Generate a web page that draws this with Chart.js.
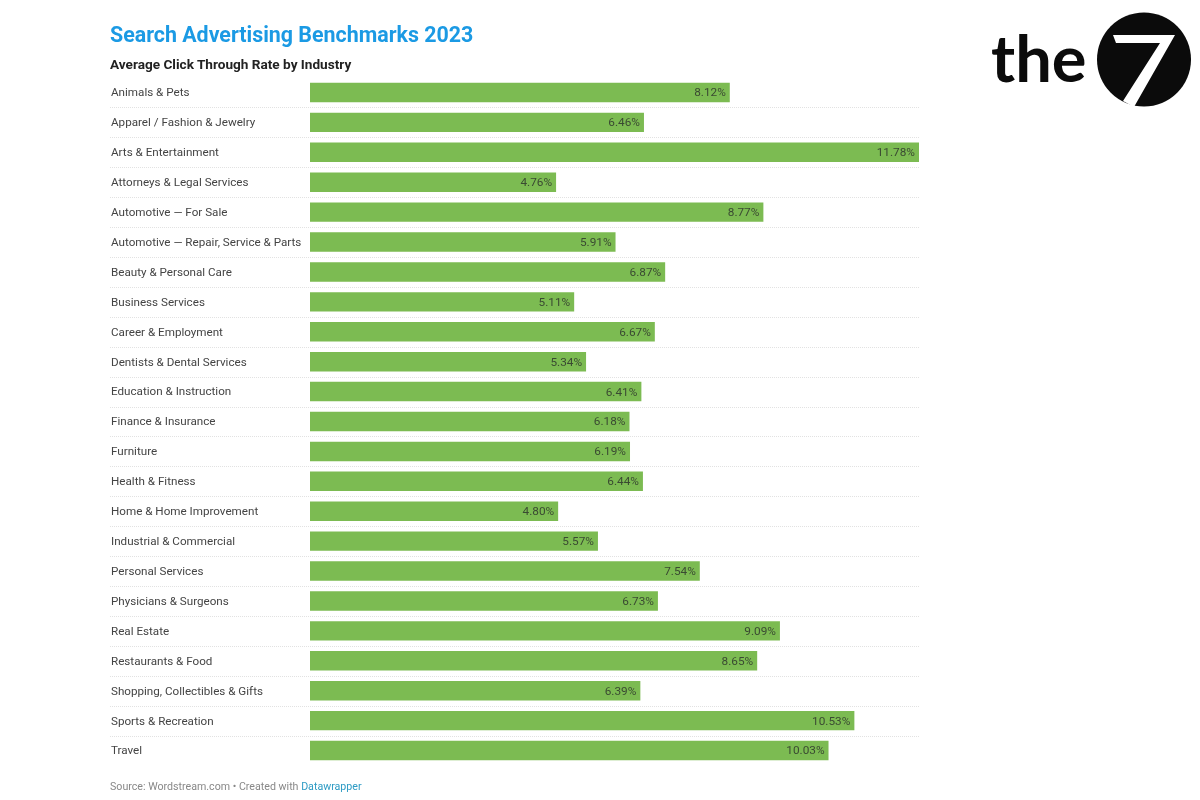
<!DOCTYPE html>
<html>
<head>
<meta charset="utf-8">
<title>Search Advertising Benchmarks 2023</title>
<script src="https://cdn.jsdelivr.net/npm/chart.js@4/dist/chart.umd.min.js"></script>
<style>
    html, body { margin: 0; padding: 0; background: #fff; overflow: hidden; }
    body { width: 1200px; height: 800px; position: relative; font-family: Roboto, sans-serif; }
    #chart { position: absolute; left: 0; top: 0; }
    .title { position: absolute; left: 110px; top: 22px; font-size: 21.4px; line-height: 26px; font-weight: 700; color: #1b9ae4; white-space: nowrap; }
    .subtitle { position: absolute; left: 110px; top: 55px; font-size: 13.6px; line-height: 18px; font-weight: 700; color: #222; white-space: nowrap; }
    .source { position: absolute; left: 110px; top: 780px; font-size: 10.65px; line-height: 14px; color: #888; white-space: nowrap; }
    .source span { color: #2e9bc4; }
    .logo-text { position: absolute; left: 991px; top: 17px; font-family: Lato, sans-serif; font-size: 65px; line-height: 80px; font-weight: 700; color: #0b0b0b; white-space: nowrap; }
    .logo-mark { position: absolute; left: 1090px; top: 5px; }
</style>
</head>
<body>
<canvas id="chart" width="1200" height="800"></canvas>
<div class="title">Search Advertising Benchmarks 2023</div>
<div class="subtitle">Average Click Through Rate by Industry</div>
<div class="source">Source: Wordstream.com • Created with <span>Datawrapper</span></div>
<div class="logo-text">the</div>
<svg class="logo-mark" width="110" height="110" viewBox="1090 5 110 110">
    <circle cx="1144" cy="59.5" r="47" fill="#0b0b0b"/>
    <polygon points="1113,35 1175,35 1134,107 1123,101 1160,43 1116,43" fill="#fff"/>
</svg>
<script>
const industries = [
    'Animals & Pets', 'Apparel / Fashion & Jewelry', 'Arts & Entertainment',
    'Attorneys & Legal Services', 'Automotive — For Sale',
    'Automotive — Repair, Service & Parts', 'Beauty & Personal Care',
    'Business Services', 'Career & Employment', 'Dentists & Dental Services',
    'Education & Instruction', 'Finance & Insurance', 'Furniture',
    'Health & Fitness', 'Home & Home Improvement', 'Industrial & Commercial',
    'Personal Services', 'Physicians & Surgeons', 'Real Estate',
    'Restaurants & Food', 'Shopping, Collectibles & Gifts',
    'Sports & Recreation', 'Travel'
];
const ctrValues = [
    8.12, 6.46, 11.78, 4.76, 8.77, 5.91, 6.87, 5.11, 6.67, 5.34, 6.41, 6.18,
    6.19, 6.44, 4.80, 5.57, 7.54, 6.73, 9.09, 8.65, 6.39, 10.53, 10.03
];

// dotted separators between rows, from the label column to the end of the plot
const rowLines = {
    id: 'rowLines',
    beforeDatasetsDraw(chart) {
        const { ctx, scales: { y }, chartArea } = chart;
        ctx.save();
        ctx.strokeStyle = '#e2e2e2';
        ctx.lineWidth = 1;
        ctx.setLineDash([1, 1]);
        for (let i = 0; i < industries.length - 1; i++) {
            const py = Math.round((y.getPixelForTick(i) + y.getPixelForTick(i + 1)) / 2) + 0.5;
            ctx.beginPath();
            ctx.moveTo(110, py);
            ctx.lineTo(chartArea.right, py);
            ctx.stroke();
        }
        ctx.restore();
    }
};

// value labels, right aligned inside each bar
const barValues = {
    id: 'barValues',
    afterDatasetsDraw(chart) {
        const { ctx } = chart;
        const bars = chart.getDatasetMeta(0).data;
        ctx.save();
        ctx.font = '11.8px Roboto';
        ctx.fillStyle = '#3a4a32';
        ctx.textAlign = 'right';
        ctx.textBaseline = 'middle';
        bars.forEach((bar, i) => {
            ctx.fillText(ctrValues[i].toFixed(2) + '%', bar.x - 4, bar.y + 1);
        });
        ctx.restore();
    }
};

new Chart(document.getElementById('chart'), {
    type: 'bar',
    data: {
        labels: industries,
        datasets: [{
            data: ctrValues,
            backgroundColor: '#7cbb52',
            borderWidth: 0,
            barPercentage: 0.65,
            categoryPercentage: 1
        }]
    },
    options: {
        indexAxis: 'y',
        responsive: false,
        animation: false,
        devicePixelRatio: 1,
        layout: { padding: { left: 111, right: 281, top: 77.5, bottom: 34.5 } },
        plugins: {
            legend: { display: false },
            title: { display: false },
            tooltip: { enabled: false }
        },
        scales: {
            x: { display: false, min: 0, max: 11.78 },
            y: {
                afterFit: scale => { scale.width = 199; },
                grid: { display: false },
                border: { display: false },
                ticks: {
                    autoSkip: false,
                    crossAlign: 'far',
                    labelOffset: 1,
                    color: '#444',
                    font: { family: 'Roboto', size: 11.65 }
                }
            }
        }
    },
    plugins: [rowLines, barValues]
});
</script>
</body>
</html>
